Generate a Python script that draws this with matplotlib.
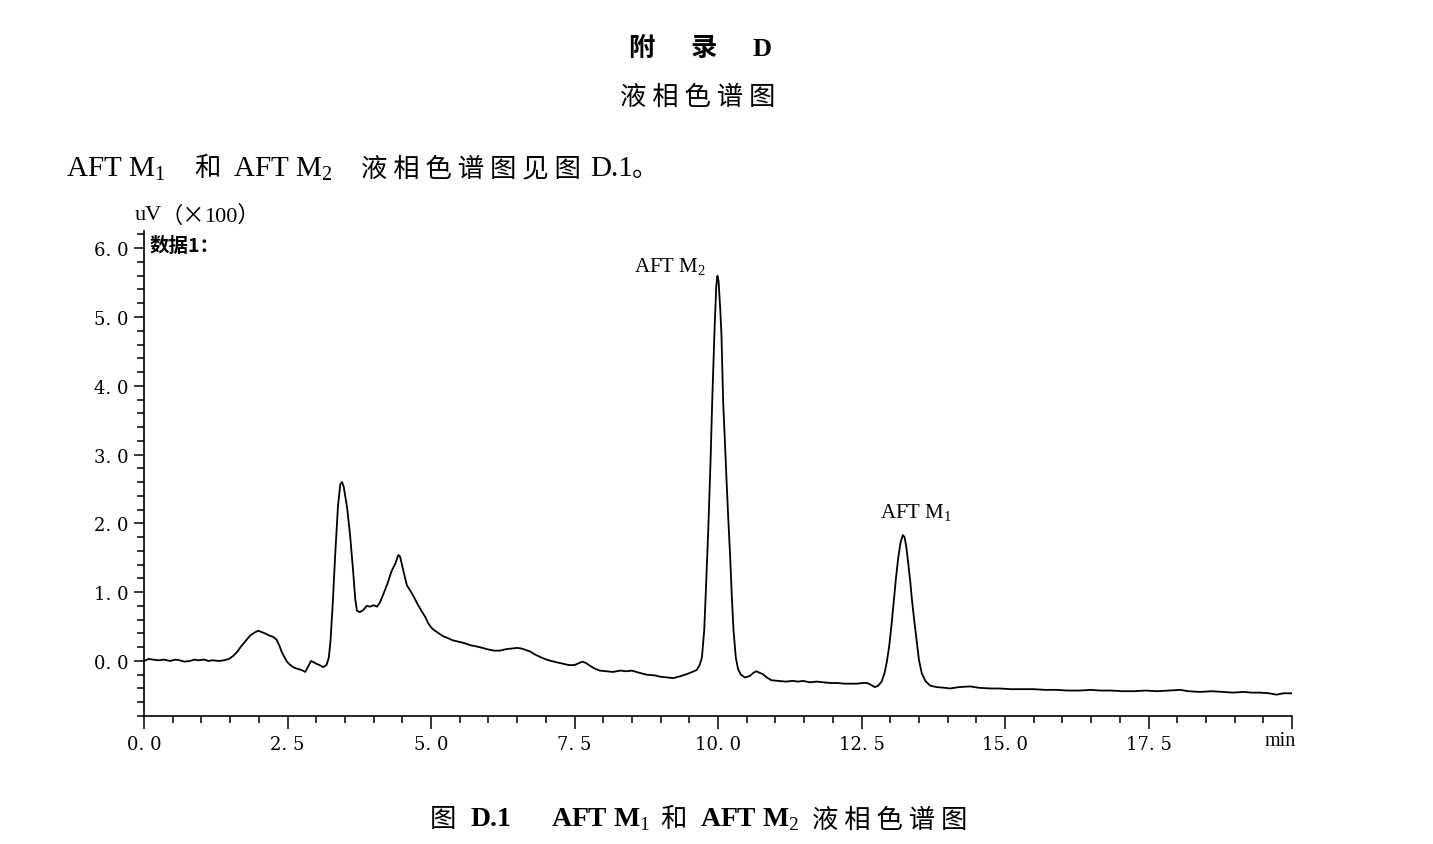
import matplotlib

matplotlib.use("Agg")
import matplotlib.pyplot as plt
from matplotlib.ticker import MultipleLocator, FixedLocator

plt.rcParams["mathtext.fontset"] = "custom"
plt.rcParams["mathtext.rm"] = "Liberation Serif"
plt.rcParams["mathtext.bf"] = "Liberation Serif:bold"

SERIF_CJK = ["Liberation Serif", "DejaVu Serif", "Noto Sans CJK SC"]
CJK = ["Noto Sans CJK SC", "DejaVu Sans"]

# chromatogram: retention time (min) vs signal (uV x100)
time_min = [
    0.00, 0.08, 0.15, 0.25, 0.35, 0.45, 0.55, 0.62, 0.70, 0.80, 0.88, 0.95,
    1.05, 1.12, 1.20, 1.30, 1.40, 1.48, 1.55, 1.62, 1.70, 1.78, 1.85, 1.92,
    1.99, 2.05, 2.11, 2.18, 2.25, 2.31, 2.36, 2.40, 2.45, 2.49, 2.55, 2.62,
    2.70, 2.77, 2.81, 2.86, 2.91, 2.96, 3.00, 3.06, 3.12, 3.18, 3.22, 3.25,
    3.29, 3.33, 3.38, 3.42, 3.45, 3.48, 3.54, 3.59, 3.64, 3.68, 3.71, 3.76,
    3.82, 3.88, 3.94, 4.00, 4.06, 4.11, 4.16, 4.24, 4.31, 4.38, 4.43, 4.46,
    4.51, 4.55, 4.58, 4.64, 4.69, 4.77, 4.84, 4.90, 4.95, 5.00, 5.05, 5.12,
    5.21, 5.30, 5.38, 5.48, 5.58, 5.68, 5.80, 5.90, 5.98, 6.10, 6.20, 6.30,
    6.40, 6.50, 6.58, 6.65, 6.72, 6.82, 6.95, 7.05, 7.19, 7.30, 7.40, 7.50,
    7.58, 7.64, 7.70, 7.77, 7.85, 7.94, 8.05, 8.17, 8.30, 8.40, 8.50, 8.62,
    8.76, 8.90, 9.00, 9.12, 9.22, 9.35, 9.46, 9.55, 9.63, 9.68, 9.72, 9.76,
    9.79, 9.83, 9.87, 9.90, 9.94, 9.97, 9.99, 10.01, 10.04, 10.06, 10.09, 10.12,
    10.15, 10.18, 10.21, 10.24, 10.27, 10.31, 10.35, 10.40, 10.47, 10.55, 10.62, 10.67,
    10.72, 10.78, 10.85, 10.93, 11.05, 11.18, 11.30, 11.40, 11.48, 11.60, 11.72, 11.83,
    11.95, 12.08, 12.20, 12.30, 12.42, 12.52, 12.60, 12.67, 12.73, 12.79, 12.85, 12.90,
    12.94, 12.98, 13.02, 13.06, 13.10, 13.14, 13.18, 13.22, 13.25, 13.28, 13.31, 13.35,
    13.38, 13.42, 13.46, 13.50, 13.55, 13.62, 13.70, 13.81, 13.95, 14.04, 14.20, 14.39,
    14.55, 14.75, 14.91, 15.10, 15.30, 15.50, 15.70, 15.90, 16.08, 16.30, 16.50, 16.66,
    16.85, 17.05, 17.24, 17.45, 17.65, 17.85, 18.05, 18.20, 18.40, 18.60, 18.80, 18.98,
    19.15, 19.30, 19.44, 19.60, 19.73, 19.85, 20.00,
]
signal = [
    0.00, 0.03, 0.02, 0.01, 0.02, 0.00, 0.02, 0.01, -0.01, 0.00, 0.02, 0.01,
    0.02, 0.00, 0.01, 0.00, 0.01, 0.03, 0.07, 0.13, 0.22, 0.30, 0.37, 0.41,
    0.44, 0.42, 0.40, 0.37, 0.35, 0.31, 0.22, 0.13, 0.05, -0.01, -0.06, -0.10,
    -0.12, -0.14, -0.16, -0.08, 0.00, -0.02, -0.04, -0.06, -0.09, -0.06, 0.05, 0.30,
    0.86, 1.53, 2.26, 2.57, 2.60, 2.53, 2.22, 1.83, 1.34, 0.90, 0.73, 0.71,
    0.74, 0.80, 0.79, 0.81, 0.79, 0.85, 0.95, 1.12, 1.30, 1.42, 1.54, 1.52,
    1.34, 1.20, 1.10, 1.02, 0.95, 0.82, 0.72, 0.64, 0.55, 0.49, 0.45, 0.41,
    0.36, 0.33, 0.30, 0.28, 0.26, 0.23, 0.21, 0.19, 0.17, 0.15, 0.15, 0.17,
    0.18, 0.19, 0.18, 0.16, 0.14, 0.09, 0.04, 0.01, -0.02, -0.04, -0.06, -0.06,
    -0.03, -0.01, -0.03, -0.07, -0.11, -0.14, -0.15, -0.16, -0.14, -0.15, -0.14, -0.17,
    -0.20, -0.21, -0.23, -0.24, -0.25, -0.22, -0.19, -0.16, -0.13, -0.06, 0.05, 0.45,
    1.05, 1.90, 2.90, 3.80, 4.82, 5.45, 5.60, 5.52, 5.10, 4.75, 3.76, 3.20,
    2.60, 2.05, 1.55, 0.95, 0.45, 0.05, -0.12, -0.20, -0.24, -0.22, -0.17, -0.15,
    -0.17, -0.19, -0.24, -0.28, -0.29, -0.30, -0.29, -0.30, -0.29, -0.31, -0.30, -0.31,
    -0.32, -0.32, -0.33, -0.33, -0.33, -0.32, -0.32, -0.35, -0.38, -0.36, -0.30, -0.18,
    -0.02, 0.20, 0.50, 0.85, 1.20, 1.50, 1.72, 1.83, 1.80, 1.66, 1.45, 1.15,
    0.88, 0.58, 0.30, 0.02, -0.18, -0.30, -0.36, -0.38, -0.39, -0.40, -0.38, -0.37,
    -0.39, -0.40, -0.40, -0.41, -0.41, -0.41, -0.42, -0.42, -0.43, -0.43, -0.42, -0.43,
    -0.43, -0.44, -0.44, -0.43, -0.44, -0.43, -0.42, -0.44, -0.45, -0.44, -0.45, -0.46,
    -0.45, -0.46, -0.46, -0.47, -0.49, -0.47, -0.47,
]

x_major = [0.0, 2.5, 5.0, 7.5, 10.0, 12.5, 15.0, 17.5, 20.0]
x_labels = ["0. 0", "2. 5", "5. 0", "7. 5", "10. 0", "12. 5", "15. 0", "17. 5", ""]
y_major = [0, 1, 2, 3, 4, 5, 6]
y_labels = ["0. 0", "1. 0", "2. 0", "3. 0", "4. 0", "5. 0", "6. 0"]

peak_labels = ["AFT M$_2$", "AFT M$_1$"]
peak_label_pos = [(8.54, 5.74), (12.82, 2.16)]

W, H = 1433, 845
fig = plt.figure(figsize=(W / 100, H / 100), dpi=100)


def px(x, y):
    return x / W, 1 - y / H


ax = fig.add_axes([144 / W, 1 - 717 / H, (1292 - 144) / W, (717 - 232) / H])
ax.plot(time_min, signal, color="black", lw=1.3)
ax.set_xlim(0, 20)
ax.set_ylim(-0.8, 6.25)

for side in ("top", "right"):
    ax.spines[side].set_visible(False)
for side in ("left", "bottom"):
    ax.spines[side].set_linewidth(1.2)

ax.xaxis.set_major_locator(FixedLocator(x_major))
ax.xaxis.set_minor_locator(MultipleLocator(0.5))
ax.set_xticklabels(x_labels)
ax.yaxis.set_major_locator(FixedLocator(y_major))
ax.yaxis.set_minor_locator(MultipleLocator(0.2))
ax.set_yticklabels(y_labels)
ax.tick_params(axis="x", which="major", direction="out", length=9, width=1.1, pad=5)
ax.tick_params(axis="x", which="minor", direction="out", length=5, width=1.1)
ax.tick_params(axis="y", which="major", direction="out", length=7, width=1.1, pad=4)
ax.tick_params(axis="y", which="minor", direction="out", length=5, width=1.1)
for lab in ax.get_xticklabels() + ax.get_yticklabels():
    lab.set_fontfamily("DejaVu Serif")
    lab.set_fontsize(13)

ax.text(1.003, -0.05, "min", transform=ax.transAxes, ha="right", va="center",
        fontsize=14.5, family="Liberation Serif")

for txt, (tx, ty) in zip(peak_labels, peak_label_pos):
    ax.text(tx, ty, txt, ha="left", va="center", fontsize=15, family="Liberation Serif")

# texts around the plot
fig.text(*px(135, 216), "uV", ha="left", va="center", fontsize=16, family="Liberation Serif")
fig.text(*px(160, 216), "（×", ha="left", va="center", fontsize=16, family=CJK)
fig.text(*px(204, 216), "100）", ha="left", va="center", fontsize=16, family=SERIF_CJK)
fig.text(*px(150, 246), "数据1：", ha="left", va="center", fontsize=14,
         weight="bold", family=CJK)

for ch, cx in zip(["附", "录", "D"], [641, 704, 762]):
    fig.text(*px(cx, 49), ch, ha="center", va="center", fontsize=19, weight="bold",
             family=["Liberation Serif", "Noto Sans CJK SC"])
fig.text(*px(698, 97), "液 相 色 谱 图", ha="center", va="center", fontsize=19, family=CJK)

intro = [
    (66, "AFT M$_1$", ["Liberation Serif"], 21),
    (194, "和", CJK, 19),
    (233, "AFT M$_2$", ["Liberation Serif"], 21),
    (361, "液 相 色 谱 图 见 图", CJK, 19),
    (590, "D.1", ["Liberation Serif"], 21),
    (632, "。", CJK, 19),
]
for cx, txt, fam, fs in intro:
    fig.text(*px(cx, 169), txt, ha="left", va="center", fontsize=fs, family=fam)

caption = [
    (430, "图", CJK, "normal", 19),
    (471, "D.1", ["Liberation Serif"], "bold", 20),
    (551, "AFT M$_1$", ["Liberation Serif"], "bold", 20),
    (660, "和", CJK, "normal", 19),
    (700, "AFT M$_2$", ["Liberation Serif"], "bold", 20),
    (812, "液 相 色 谱 图", CJK, "normal", 19),
]
for cx, txt, fam, wt, fs in caption:
    fig.text(*px(cx, 820), txt, ha="left", va="center", fontsize=fs, weight=wt, family=fam)

fig.savefig("out.png", dpi=100)
